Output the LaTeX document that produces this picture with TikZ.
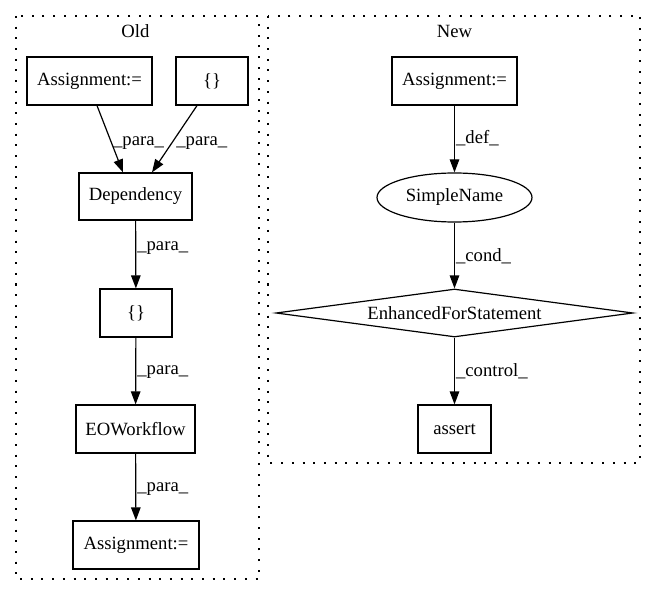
\documentclass[tikz,border=0pt]{standalone}
\usepackage{fontspec}
\setmainfont{Liberation Serif}
\usetikzlibrary{shapes.geometric,arrows.meta}
\begin{document}
\begin{tikzpicture}[x=1pt,y=-1pt,
  every node/.style={font=\fontsize{18.67}{22}\selectfont},
  box/.style={draw, line width=1.2pt, minimum height=48pt, inner sep=0pt},
  cluster/.style={draw, line width=1.3pt, dash pattern=on 2pt off 8.7pt},
  edge/.style={draw, line width=1.2pt, -{Triangle[length=13pt,width=9.5pt]}},
  elabel/.style={anchor=west, inner sep=1pt}]
\useasboundingbox (0,0) rectangle (656,596);
% clusters
\draw[cluster] (16,16) rectangle (259,579);
\node (oldlbl) at (135.5,31) {Old};
\draw[cluster] (268,16) rectangle (640,463);
\node (newlbl) at (454.5,31) {New};
% Old nodes
\node[box, minimum width=125pt] (a1) at (89.5,81) {Assignment:=};
\node[box, minimum width=72pt] (b1) at (212,81) {\{\}};
\node[box, minimum width=113pt, minimum height=47pt] (dep) at (135.5,196.5) {Dependency};
\node[box, minimum width=72pt] (b2) at (136,313) {\{\}};
\node[box, minimum width=119pt] (eow) at (135.5,429) {EOWorkflow};
\node[box, minimum width=126pt] (a2) at (136,545) {Assignment:=};
% New nodes
\node[box, minimum width=125pt] (na) at (454.5,81) {Assignment:=};
\node[draw, ellipse, line width=1.2pt, minimum width=155pt, minimum height=49pt, inner sep=0pt] (sn) at (454.5,197.5) {SimpleName};
\node[draw, diamond, aspect=7.44, line width=1.2pt, minimum width=357pt, minimum height=48pt, inner sep=0pt] (efs) at (454.5,313) {EnhancedForStatement};
\node[box, minimum width=73pt] (as) at (454.5,429) {assert};
% Old edges
\draw[edge] ([xshift=7.5pt]a1.south) -- ([xshift=-12.5pt]dep.north) node[elabel, pos=0.56] {\_para\_};
\draw[edge] ([xshift=-15pt]b1.south) -- ([xshift=16.5pt]dep.north) node[elabel, pos=0.56, xshift=3pt] {\_para\_};
\draw[edge] (dep) -- (b2) node[elabel, pos=0.41] {\_para\_};
\draw[edge] (b2) -- (eow) node[elabel, pos=0.51] {\_para\_};
\draw[edge] (eow) -- (a2) node[elabel, pos=0.53] {\_para\_};
% New edges
\draw[edge] (na) -- (sn) node[elabel, pos=0.49] {\_def\_};
\draw[edge] (sn) -- (efs) node[elabel, pos=0.51] {\_cond\_};
\draw[edge] (efs) -- (as) node[elabel, pos=0.51] {\_control\_};
\end{tikzpicture}
\end{document}
